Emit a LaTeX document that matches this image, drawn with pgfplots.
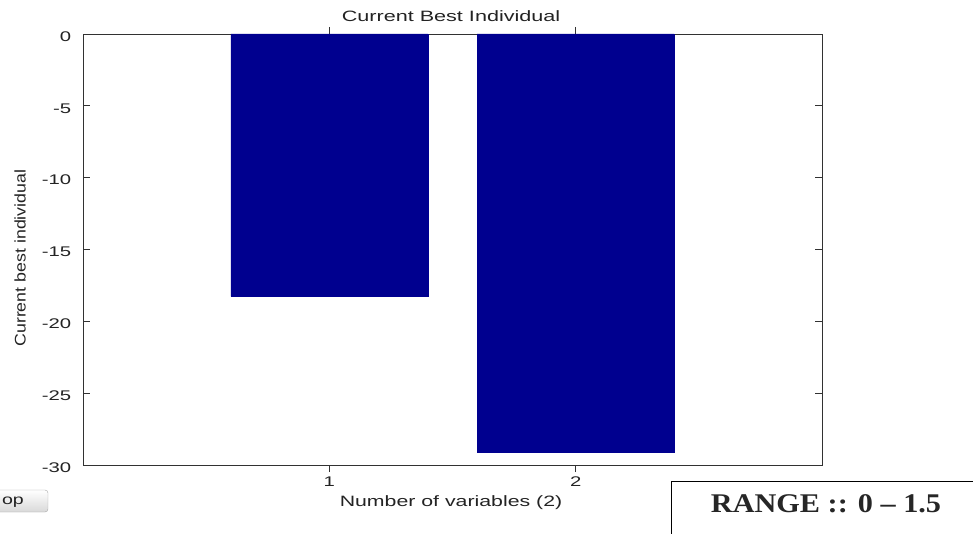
\documentclass[border=0pt]{standalone}
\usepackage{pgfplots}
\pgfplotsset{compat=1.18}
\usepackage{fontspec}
\setmainfont{Liberation Sans}
\newfontfamily\boxfont{Liberation Serif}
\definecolor{barblue}{RGB}{0,0,143}
\definecolor{axgray}{RGB}{50,50,50}
\definecolor{lblgray}{RGB}{35,35,35}
\begin{document}
\begin{tikzpicture}[x=1pt,y=1pt]
\useasboundingbox (0,0) rectangle (973,533);
\begin{scope}
\clip (0,0) rectangle (973,533);
% stop button fragment at the lower left
\draw[rounded corners=3pt, draw=gray!70, top color=white, bottom color=gray!30]
  (-12,21) rectangle (48,43);
\node[font=\fontsize{14}{16}\selectfont, text=lblgray, xscale=1.4] at (13,31) {op};
% range box at the lower right
\draw[line width=1pt, fill=white] (671,-20) rectangle (990,52);
\node[font=\boxfont\bfseries\fontsize{27}{30}\selectfont, text=black!85, xscale=1.12] at (826,29) {RANGE :: 0 – 1.5};
\end{scope}
\begin{axis}[
  at={(83pt,68pt)}, anchor=south west,
  scale only axis, width=739pt, height=431pt,
  xmin=0, xmax=3, ymin=-30, ymax=0,
  clip=false,
  xtick={1,2}, ytick={-30,-25,...,0},
  tick align=inside, major tick length=7pt,
  tick style={axgray, line width=0.9pt},
  axis line style={axgray, line width=0.9pt},
  ticklabel style={font=\fontsize{14}{16}\selectfont, text=lblgray, inner sep=0pt, xscale=1.45},
  /pgf/number format/assume math mode=true,
  yticklabel style={anchor=east, xshift=-8pt, yshift=-2.5pt},
  xticklabel style={yshift=-5pt},
  xlabel={Number of variables (2)},
  xlabel style={font=\fontsize{15}{17}\selectfont, text=lblgray, xscale=1.42,
    at={(axis description cs:0.498,-0.088)}, anchor=center, inner sep=0pt},
  ylabel={Current best individual},
  ylabel style={font=\fontsize{14}{16}\selectfont, text=lblgray, xscale=1.27, yscale=1.1,
    at={(axis description cs:-0.085,0.48)}, anchor=center, inner sep=0pt},
  ybar, bar width=0.8,
]
\addplot[fill=barblue, draw=barblue] coordinates {(1,-18.26) (2,-29.08)};
% chart title
\node[font=\fontsize{15}{17}\selectfont, text=lblgray, xscale=1.44, inner sep=0pt, anchor=center]
  at (rel axis cs:0.498,1.0418) {Current Best Individual};
\end{axis}
\end{tikzpicture}
\end{document}
